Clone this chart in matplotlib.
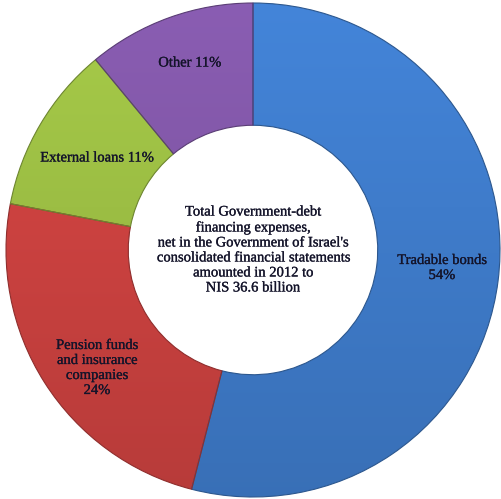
import numpy as np
import matplotlib.pyplot as plt
import matplotlib.patheffects as pe
from matplotlib.colors import to_rgb

# shares of government-debt financing expenses, 2012
labels = ['Tradable bonds\n54%', 'Pension funds\nand insurance\ncompanies\n24%',
          'External loans 11%', 'Other 11%']
shares = [54, 24, 11, 11]
colors = ['#3f7ccb', '#cc4240', '#9cbe44', '#8157a7']

center_text = ("Total Government-debt\nfinancing expenses,\n"
               "net in the Government of Israel's\nconsolidated financial statements\n"
               "amounted in 2012 to\nNIS 36.6 billion")

plt.rcParams['font.family'] = ['Liberation Serif', 'DejaVu Serif']

fig = plt.figure(figsize=(5.02, 4.99), dpi=100)
ax = fig.add_axes([0, 0, 1, 1])

R = 247.0
cx, cy = 253.0, 250.0
wedges, _ = ax.pie(shares, colors=colors, startangle=90, counterclock=False,
                   radius=1.0, wedgeprops=dict(width=0.495, linewidth=0.8))

# soft top-to-bottom shading on each slice
ramp = np.linspace(1.07, 0.9, 256)[:, None]
for w, c in zip(wedges, colors):
    rgb = np.array(to_rgb(c))
    img = np.clip(ramp[:, :, None] * rgb[None, None, :], 0, 1)
    img = np.repeat(img, 2, axis=1)
    im = ax.imshow(img, extent=(-1, 1, -1, 1), origin='upper', zorder=1.5,
                   aspect='auto', interpolation='bilinear')
    im.set_clip_path(w)
    w.set_edgecolor(tuple(rgb * 0.7))
    w.set_zorder(1.6)
    w.set_facecolor('none')

heavy = [pe.withStroke(linewidth=0.2, foreground='#14142a')]

# label positions (pixel positions on the 502x499 canvas)
label_pos = [(442, 268), (97, 368), (97, 158), (190, 63)]
for lab, (px, py) in zip(labels, label_pos):
    ax.text((px - cx) / R, (cy - py) / R, lab, ha='center', va='center',
            fontsize=10.5, color='#14142a', linespacing=1.2, zorder=3,
            path_effects=heavy)

ax.text(0, 0, center_text, ha='center', va='center', fontsize=10.5,
        color='#14142a', linespacing=1.2, zorder=3, path_effects=heavy)

ax.set_xlim(-cx / R, (502 - cx) / R)
ax.set_ylim(-(499 - cy) / R, cy / R)
ax.set_aspect('equal')
ax.axis('off')

fig.savefig('out.png', dpi=100)
